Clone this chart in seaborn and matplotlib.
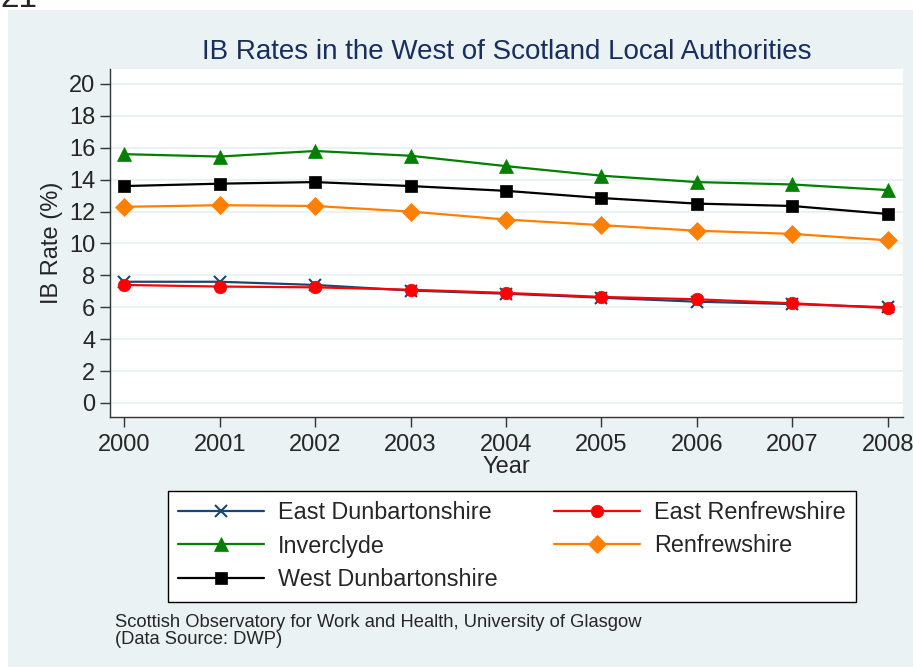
import matplotlib
matplotlib.use("Agg")
import matplotlib.pyplot as plt
import matplotlib.patches as mpatches
import seaborn as sns

years = [2000, 2001, 2002, 2003, 2004, 2005, 2006, 2007, 2008]

east_dunbartonshire = [7.6, 7.6, 7.4, 7.05, 6.85, 6.6, 6.35, 6.2, 6.0]
east_renfrewshire = [7.4, 7.3, 7.25, 7.1, 6.9, 6.65, 6.5, 6.25, 5.95]
inverclyde = [15.6, 15.45, 15.8, 15.5, 14.85, 14.25, 13.85, 13.7, 13.35]
renfrewshire = [12.3, 12.4, 12.35, 12.0, 11.5, 11.15, 10.8, 10.6, 10.2]
west_dunbartonshire = [13.6, 13.75, 13.85, 13.6, 13.3, 12.85, 12.5, 12.35, 11.85]

series = [
    ("East Dunbartonshire", east_dunbartonshire, "#1A476F", "x", 9),
    ("East Renfrewshire", east_renfrewshire, "#FF0000", "o", 9),
    ("Inverclyde", inverclyde, "#008000", "^", 10),
    ("Renfrewshire", renfrewshire, "#FF7F00", "D", 9),
    ("West Dunbartonshire", west_dunbartonshire, "#000000", "s", 9),
]

sns.set_style("white")
plt.rcParams["font.family"] = ["Liberation Sans", "DejaVu Sans"]

fig = plt.figure(figsize=(9.13, 6.67), dpi=100)
fig.patch.set_facecolor("white")
bg = mpatches.Rectangle((8 / 913, 0), 1, 1 - 10 / 667, transform=fig.transFigure,
                        facecolor="#EAF2F3", edgecolor="none", zorder=-10)
fig.add_artist(bg)
fig.text(0.0, 1 - 7 / 667, "21", fontsize=24, va="baseline", ha="left")

ax = fig.add_axes([110 / 913, 1 - 417 / 667, (903 - 110) / 913, (417 - 69) / 667])
ax.set_facecolor("white")

for name, vals, color, marker, ms in series:
    sns.lineplot(x=years, y=vals, ax=ax, color=color, marker=marker,
                 markersize=ms, markeredgecolor=color, markerfacecolor=color,
                 markeredgewidth=1.5 if marker == "x" else 0.5,
                 linewidth=1.6, label=name)

ax.set_xlim(1999.85, 2008.16)
ax.set_ylim(-0.88, 20.94)
ax.set_xticks(years)
ax.set_yticks(range(0, 21, 2))
ax.yaxis.grid(True, color="#EAF2F3", linewidth=1.5)
ax.set_axisbelow(True)
ax.tick_params(axis="both", labelsize=17, length=7, width=1, color="#333333",
               direction="out", left=True, bottom=True)
ax.tick_params(axis="x", pad=5)
for s in ["top", "right"]:
    ax.spines[s].set_visible(False)
for s in ["left", "bottom"]:
    ax.spines[s].set_color("#333333")
    ax.spines[s].set_linewidth(1)

ax.set_title("IB Rates in the West of Scotland Local Authorities",
             fontsize=20, color="#1A2E5E", pad=7)
ax.set_xlabel("Year", fontsize=17, labelpad=0)
ax.set_ylabel("IB Rate (%)", fontsize=17, labelpad=4)

h, l = ax.get_legend_handles_labels()
ax.get_legend().remove()
order = [0, 2, 4, 1, 3]
fig.legend([h[i] for i in order], [l[i] for i in order], ncol=2,
           loc="center", bbox_to_anchor=(512 / 913, 1 - 546 / 667),
           fontsize=16.8, frameon=True, fancybox=False, edgecolor="black",
           framealpha=1, handlelength=3.7, handletextpad=0.6,
           columnspacing=2.4, labelspacing=0.45, borderpad=0.45)

fig.text(115 / 913, 1 - 631 / 667,
         "Scottish Observatory for Work and Health, University of Glasgow\n(Data Source: DWP)",
         fontsize=13.2, va="center", ha="left", linespacing=1.0)

fig.savefig("out.png", dpi=100)
